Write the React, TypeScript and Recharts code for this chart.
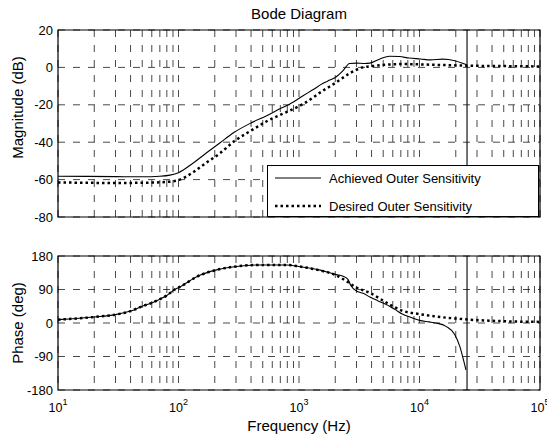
import React from "react";
import {
  LineChart,
  Line,
  XAxis,
  YAxis,
  CartesianGrid,
  ReferenceLine,
  ReferenceArea,
  Legend,
  Label,
} from "recharts";

// frequency axis (Hz, log)
const decades = [10, 100, 1000, 10000];
const minorSteps = [1, 2, 3, 4, 5, 6, 7, 8, 9];
const xTicks = [...decades.flatMap((d) => minorSteps.map((m) => d * m)), 100000];

const magTicks = [-80, -60, -40, -20, 0, 20];
const phaseTicks = [-180, -90, 0, 90, 180];

const nyquistHz = 24800;

const achievedName = "Achieved Outer Sensitivity";
const desiredName = "Desired Outer Sensitivity";

// magnitude, achieved (dB)
const magAchievedFreq = [
  10, 30, 50, 70, 85, 100, 130, 170, 220, 290, 400, 540, 700, 840, 1080, 1300,
  1585, 1800, 2040, 2300, 2630, 3000, 3500, 3870, 4690, 5640, 6800, 8200,
  10200, 12300, 15600, 19600, 23000, 24800,
];
const magAchieved = [
  -58.2, -58.4, -58.5, -58.2, -57.6, -56.3, -51.5, -45.8, -40.4, -34.7, -29.7,
  -25.8, -22, -19.6, -15.2, -12, -8.5, -6.8, -5, -2, 2.1, 2.3, 2.1, 2.3, 4.5,
  6, 5.8, 5, 4.5, 4, 4.4, 3.6, 2.1, 1.3,
];

// magnitude, desired (dB)
const magDesiredFreq = [
  10, 30, 60, 85, 100, 130, 170, 220, 290, 400, 540, 838, 1080, 1585, 2040,
  2630, 3380, 4360, 7100, 13000, 26000, 50000, 100000,
];
const magDesired = [
  -61.5, -61.8, -61.6, -61.1, -60.3, -56.4, -51, -46, -39.5, -33.8, -28.8,
  -23.1, -19.6, -12.4, -8, -3.2, 0, 0.9, 1.8, 1.4, 0.9, 0.7, 0.5,
];

// phase, achieved (deg)
const phaseAchievedFreq = [
  10, 20, 30, 40, 50, 60, 70, 80, 93, 100, 150, 207, 302, 471, 784, 1000, 1500,
  2040, 2300, 2540, 2700, 3000, 3400, 3870, 4500, 5300, 6300, 7200, 8500,
  10000, 12000, 13700, 16600, 19600, 21600, 23000, 24300,
];
const phaseAchieved = [
  9, 16, 22.5, 32, 45, 54, 64, 74, 90, 95, 128, 142.7, 152, 156, 156, 152, 142,
  130, 126, 118, 100, 86, 80, 70, 60, 50, 36, 24, 15, 7, 3, 0, -9, -31, -63,
  -95, -126,
];

// phase, desired (deg)
const phaseDesiredFreq = [
  10, 20, 30, 40, 50, 60, 70, 80, 93, 100, 150, 207, 302, 471, 784, 1000, 1500,
  2040, 2540, 3000, 3870, 5300, 7200, 10000, 14000, 20000, 26000, 40000, 60000,
  100000,
];
const phaseDesired = [
  9, 16, 22.5, 32, 45, 54, 64, 74, 90, 95, 128, 142.7, 152, 156, 156, 152, 141,
  128, 110, 95, 81, 55, 33, 24, 17, 12, 9, 6, 4, 3,
];

const toPoints = (freqs: number[], values: number[]) =>
  freqs.map((f, i) => ({ f, v: values[i] }));

const magAchievedData = toPoints(magAchievedFreq, magAchieved);
const magDesiredData = toPoints(magDesiredFreq, magDesired);
const phaseAchievedData = toPoints(phaseAchievedFreq, phaseAchieved);
const phaseDesiredData = toPoints(phaseDesiredFreq, phaseDesired);

const FONT = '"Liberation Sans", Arial, Helvetica, sans-serif';
const GRID_DASH = "7 8";
const GRID_COLOR = "#1a1a1a";
const DOT_DASH = "2.5 3";

const lineStyles: Record<string, { width: number; dash?: string }> = {
  [achievedName]: { width: 1.1 },
  [desiredName]: { width: 2.5, dash: DOT_DASH },
};

const EmptyTick = () => <g />;

const FreqTick = (props: any) => {
  const { x, y, payload } = props;
  const exp = Math.round(Math.log10(payload.value));
  if (Math.abs(Math.pow(10, exp) - payload.value) > 1e-6) return <g />;
  return (
    <text x={x} y={y + 22} textAnchor="middle" fontSize={12.5} fill="#000">
      10
      <tspan dy={-7} fontSize={9}>
        {exp}
      </tspan>
    </text>
  );
};

const yTitle = (text: string, shift: number) => (props: any) => {
  const { viewBox } = props;
  const cx = viewBox.x + 17;
  const cy = viewBox.y + viewBox.height / 2 + shift;
  return (
    <text
      x={cx}
      y={cy}
      transform={`rotate(-90, ${cx}, ${cy})`}
      textAnchor="middle"
      dominantBaseline="central"
      fontSize={15}
      fill="#000"
    >
      {text}
    </text>
  );
};

const xTitle = (props: any) => {
  const { viewBox } = props;
  return (
    <text
      x={viewBox.x + viewBox.width / 2}
      y={viewBox.y + 41}
      textAnchor="middle"
      fontSize={15}
      fill="#000"
    >
      Frequency (Hz)
    </text>
  );
};

const renderLegend = (props: any) => {
  const entries = (props.payload || []).map((e: any) => e.value);
  return (
    <div
      style={{
        width: 272,
        height: 52,
        boxSizing: "border-box",
        border: "1px solid #000",
        background: "#fff",
        position: "relative",
        fontSize: 13,
        fontFamily: FONT,
      }}
    >
      {entries.map((name: string, i: number) => {
        const st = lineStyles[name] || { width: 1 };
        return (
          <div
            key={name}
            style={{
              position: "absolute",
              left: 7,
              top: i === 0 ? 3 : 31,
              height: 18,
              display: "flex",
              alignItems: "center",
              whiteSpace: "nowrap",
            }}
          >
            <svg width={46} height={6}>
              <line
                x1={0}
                y1={3}
                x2={46}
                y2={3}
                stroke="#000"
                strokeWidth={st.width}
                strokeDasharray={st.dash}
              />
            </svg>
            <span style={{ marginLeft: 8 }}>{name}</span>
          </div>
        );
      })}
    </div>
  );
};

const xAxisProps = {
  dataKey: "f",
  type: "number" as const,
  scale: "log" as const,
  domain: [10, 100000],
  ticks: xTicks,
  interval: 0,
  allowDataOverflow: true,
};

export default function App() {
  return (
    <div
      style={{
        position: "absolute",
        left: 0,
        top: 0,
        width: 547,
        height: 436,
        background: "#fff",
        fontFamily: FONT,
      }}
    >
      <div
        style={{
          position: "absolute",
          left: 58,
          width: 482,
          top: 6,
          textAlign: "center",
          fontSize: 15,
          lineHeight: "15px",
        }}
      >
        Bode Diagram
      </div>

      <div style={{ position: "absolute", left: 0, top: 0 }}>
        <LineChart
          width={547}
          height={230}
          margin={{ top: 30, right: 7, bottom: 13, left: 0 }}
        >
          <CartesianGrid
            stroke={GRID_COLOR}
            strokeWidth={0.8}
            strokeDasharray={GRID_DASH}
          />
          <XAxis
            {...xAxisProps}
            height={0}
            tick={<EmptyTick />}
            tickLine={false}
            axisLine={false}
            tickSize={0}
          />
          <YAxis
            type="number"
            domain={[-80, 20]}
            ticks={magTicks}
            interval={0}
            width={58}
            tickLine={false}
            axisLine={false}
            tickSize={0}
            tickMargin={5}
            tick={{ fontSize: 13, fill: "#000" }}
            label={<Label content={yTitle("Magnitude (dB)", -16)} />}
          />
          <Line
            data={magAchievedData}
            dataKey="v"
            name={achievedName}
            type="monotone"
            stroke="#000"
            strokeWidth={1.1}
            dot={false}
            isAnimationActive={false}
          />
          <Line
            data={magDesiredData}
            dataKey="v"
            name={desiredName}
            type="monotone"
            stroke="#000"
            strokeWidth={2.5}
            strokeDasharray={DOT_DASH}
            dot={false}
            isAnimationActive={false}
          />
          <ReferenceLine x={nyquistHz} stroke="#000" strokeWidth={1.1} />
          <ReferenceArea
            x1={10}
            x2={100000}
            y1={-80}
            y2={20}
            fill="none"
            stroke="#000"
            strokeWidth={1.2}
          />
          <Legend
            content={renderLegend}
            layout="horizontal"
            align="center"
            verticalAlign="middle"
            width={272}
            height={52}
            wrapperStyle={{ left: 267, top: 165, width: 272, height: 52 }}
          />
        </LineChart>
      </div>

      <div style={{ position: "absolute", left: 0, top: 230 }}>
        <LineChart
          width={547}
          height={206}
          margin={{ top: 26, right: 7, bottom: 0, left: 0 }}
        >
          <CartesianGrid
            stroke={GRID_COLOR}
            strokeWidth={0.8}
            strokeDasharray={GRID_DASH}
          />
          <XAxis
            {...xAxisProps}
            height={46}
            tick={<FreqTick />}
            tickLine={false}
            axisLine={false}
            tickSize={0}
            tickMargin={0}
            label={<Label content={xTitle} />}
          />
          <YAxis
            type="number"
            domain={[-180, 180]}
            ticks={phaseTicks}
            interval={0}
            width={58}
            tickLine={false}
            axisLine={false}
            tickSize={0}
            tickMargin={5}
            tick={{ fontSize: 13, fill: "#000" }}
            label={<Label content={yTitle("Phase (deg)", 0)} />}
          />
          <Line
            data={phaseAchievedData}
            dataKey="v"
            name={achievedName}
            type="monotone"
            stroke="#000"
            strokeWidth={1.1}
            dot={false}
            isAnimationActive={false}
          />
          <Line
            data={phaseDesiredData}
            dataKey="v"
            name={desiredName}
            type="monotone"
            stroke="#000"
            strokeWidth={2.5}
            strokeDasharray={DOT_DASH}
            dot={false}
            isAnimationActive={false}
          />
          <ReferenceLine x={nyquistHz} stroke="#000" strokeWidth={1.1} />
          <ReferenceArea
            x1={10}
            x2={100000}
            y1={-180}
            y2={180}
            fill="none"
            stroke="#000"
            strokeWidth={1.2}
          />
        </LineChart>
      </div>
    </div>
  );
}
